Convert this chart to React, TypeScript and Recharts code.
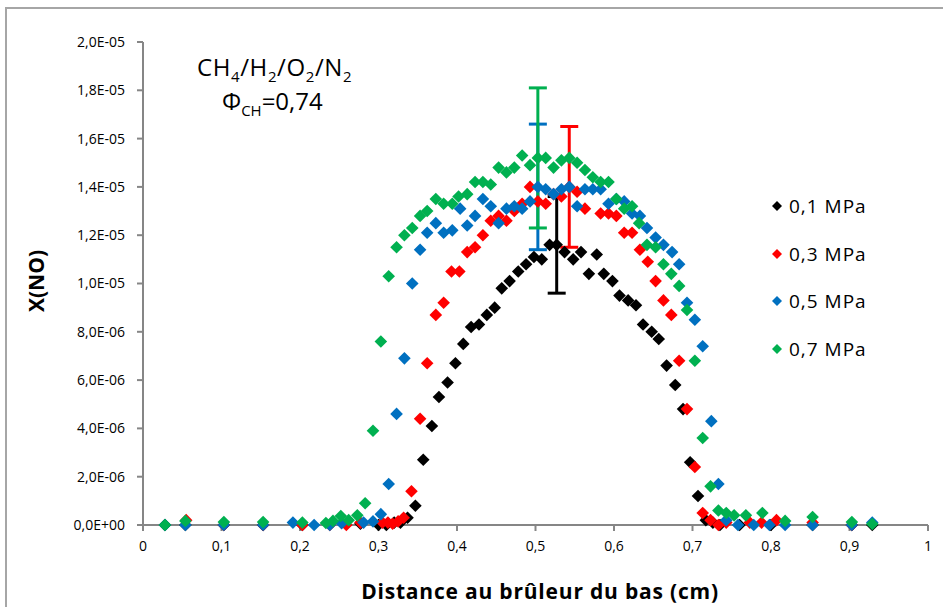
import React from 'react';
import { ScatterChart, Scatter, XAxis, YAxis, ErrorBar } from 'recharts';

// distance au brûleur (cm) and X(NO) in units of 1e-6, one pair of arrays per pressure
const dist01 = [0.028, 0.054, 0.103, 0.153, 0.203, 0.277, 0.300, 0.310, 0.320, 0.328, 0.337, 0.347, 0.357, 0.368, 0.377, 0.388, 0.398, 0.408, 0.418, 0.428, 0.438, 0.448, 0.457, 0.467, 0.478, 0.488, 0.498, 0.508, 0.518, 0.527, 0.537, 0.548, 0.558, 0.568, 0.578, 0.587, 0.598, 0.607, 0.618, 0.628, 0.637, 0.648, 0.657, 0.667, 0.678, 0.688, 0.697, 0.707, 0.717, 0.726, 0.735, 0.760, 0.800, 0.853, 0.903, 0.929];
const no01 = [0, 0, 0, 0, 0, 0.05, 0, 0, 0.1, 0.1, 0.3, 0.8, 2.7, 4.1, 5.3, 5.9, 6.7, 7.5, 8.2, 8.3, 8.7, 9.0, 9.8, 10.1, 10.5, 10.8, 11.1, 11.0, 11.6, 11.6, 11.3, 11.0, 11.3, 10.4, 11.2, 10.4, 10.1, 9.5, 9.3, 9.1, 8.3, 8.0, 7.7, 6.6, 5.8, 4.8, 2.6, 1.2, 0.2, 0.1, 0, 0, 0, 0, 0, 0];

const dist03 = [0.055, 0.103, 0.153, 0.203, 0.238, 0.259, 0.277, 0.305, 0.312, 0.318, 0.325, 0.332, 0.342, 0.353, 0.362, 0.373, 0.383, 0.393, 0.403, 0.413, 0.423, 0.433, 0.443, 0.453, 0.463, 0.473, 0.483, 0.493, 0.503, 0.513, 0.523, 0.533, 0.543, 0.553, 0.563, 0.583, 0.593, 0.603, 0.613, 0.623, 0.633, 0.643, 0.653, 0.663, 0.673, 0.683, 0.693, 0.703, 0.713, 0.723, 0.733, 0.743, 0.773, 0.788, 0.807, 0.853, 0.903];
const no03 = [0.2, 0, 0, 0, 0, 0, 0.1, 0.1, 0.1, 0.05, 0.15, 0.3, 1.4, 4.4, 6.7, 8.7, 9.2, 10.5, 10.5, 11.3, 11.5, 12.0, 12.6, 12.8, 12.6, 13.0, 13.3, 14.0, 13.4, 13.3, 13.7, 13.6, 14.0, 13.8, 13.1, 12.9, 12.9, 12.8, 12.1, 12.1, 11.4, 10.9, 10.1, 9.3, 8.7, 6.8, 4.8, 2.4, 0.5, 0.2, 0, 0.1, 0.1, 0.1, 0.2, 0.1, 0];

const dist05 = [0.028, 0.054, 0.103, 0.153, 0.191, 0.218, 0.238, 0.253, 0.281, 0.293, 0.303, 0.313, 0.323, 0.333, 0.343, 0.353, 0.362, 0.373, 0.383, 0.394, 0.404, 0.413, 0.423, 0.433, 0.443, 0.453, 0.463, 0.473, 0.483, 0.493, 0.503, 0.513, 0.523, 0.533, 0.543, 0.553, 0.563, 0.573, 0.583, 0.593, 0.603, 0.613, 0.623, 0.633, 0.642, 0.653, 0.663, 0.674, 0.683, 0.693, 0.703, 0.713, 0.724, 0.733, 0.743, 0.758, 0.778, 0.798, 0.818, 0.853, 0.903, 0.929];
const no05 = [0, 0, 0, 0, 0.1, 0, 0, 0.07, 0.1, 0.15, 0.45, 1.7, 4.6, 6.9, 10.0, 11.4, 12.1, 12.5, 12.1, 12.2, 13.1, 12.4, 12.8, 13.5, 13.2, 12.5, 13.1, 13.2, 13.1, 13.4, 14.0, 13.9, 13.7, 13.9, 14.0, 13.2, 13.9, 13.9, 13.9, 13.3, 13.5, 13.4, 12.9, 12.8, 12.3, 11.9, 11.6, 11.3, 10.8, 9.2, 8.5, 7.4, 4.3, 1.7, 0.2, 0, 0, 0, 0, 0, 0, 0.1];

const dist07 = [0.028, 0.054, 0.103, 0.153, 0.203, 0.233, 0.242, 0.252, 0.262, 0.273, 0.283, 0.293, 0.303, 0.313, 0.323, 0.333, 0.343, 0.353, 0.362, 0.373, 0.383, 0.394, 0.402, 0.413, 0.423, 0.433, 0.443, 0.453, 0.463, 0.473, 0.483, 0.493, 0.503, 0.513, 0.523, 0.533, 0.543, 0.553, 0.563, 0.573, 0.583, 0.593, 0.603, 0.613, 0.623, 0.632, 0.642, 0.653, 0.663, 0.673, 0.683, 0.693, 0.703, 0.713, 0.723, 0.733, 0.743, 0.753, 0.768, 0.789, 0.818, 0.853, 0.903, 0.929];
const no07 = [0, 0.17, 0.12, 0.12, 0.1, 0.08, 0.17, 0.37, 0.2, 0.4, 0.9, 3.9, 7.6, 10.3, 11.5, 12.0, 12.3, 12.8, 13.0, 13.5, 13.3, 13.3, 13.6, 13.7, 14.2, 14.2, 14.1, 14.8, 14.6, 14.8, 15.3, 14.9, 15.2, 15.2, 14.8, 15.1, 15.2, 15.0, 14.7, 14.4, 14.2, 14.2, 13.5, 13.1, 13.2, 12.5, 11.6, 11.5, 10.8, 10.4, 9.9, 8.9, 6.8, 3.6, 1.6, 0.6, 0.5, 0.4, 0.4, 0.5, 0.17, 0.33, 0.12, 0.04];

// one error bar per series: [distance of the point, half-height x1e-6]
const err01 = [0.527, 2.0];
const err03 = [0.543, 2.5];
const err05 = [0.503, 2.6];
const err07 = [0.503, 2.9];

const pressures = ['0,1 MPa', '0,3 MPa', '0,5 MPa', '0,7 MPa'];
const colors = ['#000000', '#FF0000', '#0070C0', '#00B050'];

const xTicks = [0, 0.1, 0.2, 0.3, 0.4, 0.5, 0.6, 0.7, 0.8, 0.9, 1];
const yTicks = [0, 2, 4, 6, 8, 10, 12, 14, 16, 18, 20];

const build = (xs: number[], ys: number[], err: number[]) =>
  xs.map((x, i) => ({ x, y: ys[i], err: x === err[0] ? err[1] : undefined }));

const series = [
  build(dist01, no01, err01),
  build(dist03, no03, err03),
  build(dist05, no05, err05),
  build(dist07, no07, err07),
];

const FONT = "'Open Sans', 'Noto Sans', sans-serif";
const AXIS = '#868686';

const sci = (v: number) => {
  const [m, e] = (v * 1e-6).toExponential(1).split('e');
  const n = parseInt(e, 10);
  return `${m.replace('.', ',')}E${n < 0 ? '-' : '+'}${String(Math.abs(n)).padStart(2, '0')}`;
};

const Diamond = (props: any) => {
  const { cx, cy, fill } = props;
  const r = 6.3;
  return <path d={`M${cx},${cy - r}L${cx + r},${cy}L${cx},${cy + r}L${cx - r},${cy}Z`} fill={fill} />;
};

const App = () => {
  return (
    <div style={{ position: 'fixed', left: 0, top: 0, width: 943, height: 607, background: '#fff', overflow: 'hidden', fontFamily: FONT }}>
      <div style={{ position: 'absolute', left: 5, top: 7, width: 960, height: 640, border: '2px solid #a6a6a6' }} />
      <ScatterChart width={943} height={607} margin={{ top: 42, right: 15, bottom: 0, left: 8 }}>
        <XAxis
          type="number"
          dataKey="x"
          domain={[0, 1]}
          ticks={xTicks}
          height={82}
          tickMargin={10}
          tickFormatter={(v: number) => String(v).replace('.', ',')}
          tick={{ fontSize: 14, fill: '#000', fontFamily: FONT }}
          axisLine={{ stroke: AXIS, strokeWidth: 2 }}
          tickLine={{ stroke: AXIS, strokeWidth: 2 }}
        />
        <YAxis
          type="number"
          dataKey="y"
          domain={[0, 20]}
          ticks={yTicks}
          width={135}
          tickMargin={12}
          tickFormatter={sci}
          tick={{ fontSize: 14, fill: '#000', fontFamily: FONT }}
          axisLine={{ stroke: AXIS, strokeWidth: 2 }}
          tickLine={{ stroke: AXIS, strokeWidth: 2 }}
        />
        {series.map((data, i) => (
          <Scatter key={pressures[i]} name={pressures[i]} data={data} fill={colors[i]} shape={Diamond} isAnimationActive={false}>
            <ErrorBar dataKey="err" direction="y" width={9} strokeWidth={3} stroke={colors[i]} />
          </Scatter>
        ))}
      </ScatterChart>

      <div style={{ position: 'absolute', left: 197, top: 52, fontSize: 24, letterSpacing: 0.6, lineHeight: '30px', whiteSpace: 'nowrap' }}>
        CH<sub style={{ fontSize: 15 }}>4</sub>/H<sub style={{ fontSize: 15 }}>2</sub>/O<sub style={{ fontSize: 15 }}>2</sub>/N<sub style={{ fontSize: 15 }}>2</sub>
      </div>
      <div style={{ position: 'absolute', left: 222, top: 86, fontSize: 24, lineHeight: '30px', whiteSpace: 'nowrap' }}>
        Φ<sub style={{ fontSize: 15 }}>CH</sub>=0,74
      </div>

      {pressures.map((p, i) => (
        <div key={p} style={{ position: 'absolute', left: 770, top: 193 + i * 47.5, height: 26, display: 'flex', alignItems: 'center', whiteSpace: 'nowrap' }}>
          <svg width={14} height={14} style={{ marginRight: 5 }}>
            <path d="M7,2L12,7L7,12L2,7Z" fill={colors[i]} />
          </svg>
          <span style={{ fontSize: 19, letterSpacing: 1 }}>{p}</span>
        </div>
      ))}

      <div style={{ position: 'absolute', left: 540, top: 591, transform: 'translate(-50%, -50%)', fontSize: 21, fontWeight: 700, letterSpacing: 0.8, whiteSpace: 'nowrap' }}>
        Distance au brûleur du bas (cm)
      </div>
      <div style={{ position: 'absolute', left: 36, top: 281, transform: 'translate(-50%, -50%) rotate(-90deg)', fontSize: 21, fontWeight: 700, whiteSpace: 'nowrap' }}>
        X(NO)
      </div>
    </div>
  );
};

export default App;
